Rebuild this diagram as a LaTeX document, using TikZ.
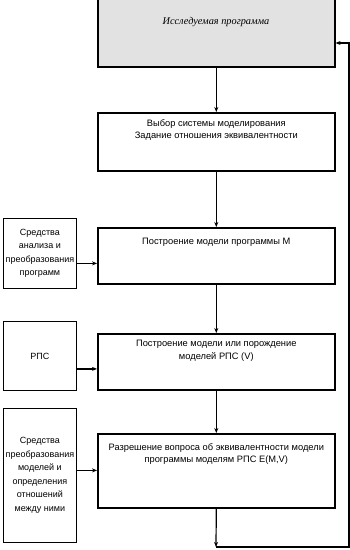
\documentclass[tikz,border=0pt]{standalone}
\usepackage{fontspec}
\setmainfont{Liberation Sans}
\newfontfamily\titrefont{Liberation Serif}
\usetikzlibrary{arrows.meta,positioning}
\definecolor{fondgris}{RGB}{226,226,226}

\begin{document}
\begin{tikzpicture}[x=1pt,y=-1pt,font=\fontsize{9.3}{12.5}\selectfont,
  etape/.style={draw,line width=1.6pt,anchor=north west,minimum width=237pt,inner sep=0pt},
  outil/.style={draw,line width=0.8pt,anchor=north west,minimum width=73pt,inner sep=1pt,
    align=center,font=\fontsize{9}{13.5}\selectfont},
  texte/.style={align=center,inner sep=0pt},
  fleche/.style={line width=1.2pt,-{Stealth[length=5pt,width=4pt]}}]
\useasboundingbox (0,0) rectangle (350,550);
% etapes principales
\node[etape,fill=fondgris,minimum height=76pt] (b1) at (97,-10) {};
\node[texte,font=\titrefont\itshape\fontsize{10.3}{12}\selectfont] (t1) at (216,22) {Исследуемая программа};
\node[etape,minimum height=58pt] (b2) at (97,112) {};
\node[texte,below=7pt of b2.north] (t2) {Выбор системы моделирования\\Задание отношения эквивалентности};
\node[etape,minimum height=56pt] (b3) at (97,227) {};
\node[texte,below=11pt of b3.north] (t3) {Построение модели программы М};
\node[etape,minimum height=56pt] (b4) at (97,333) {};
\node[texte,below=7pt of b4.north] (t4) {Построение модели или порождение\\моделей РПС (V)};
\node[etape,minimum height=74pt] (b5) at (97,433) {};
\node[texte,below=10pt of b5.north] (t5) {Разрешение вопроса об эквивалентности модели\\программы моделям РПС E(M,V)};
% outils a gauche
\node[outil,minimum height=70pt] (l1) at (3,218) {Средства\\анализа и\\преобразования\\программ};
\node[outil,minimum height=69pt] (l2) at (3,321) {РПС};
\node[outil,minimum height=134pt] (l3) at (3,408) {Средства\\преобразования\\моделей и\\определения\\отношений\\между ними};
% liaisons
\draw[fleche] (b1.south) -- (b2.north);
\draw[fleche] (b2.south) -- (b3.north);
\draw[fleche] (b3.south) -- (b4.north);
\draw[fleche] (b4.south) -- (b5.north);
\draw[fleche] ([yshift=-10pt]l1.east) -- ([yshift=-10pt]l1.east -| b3.west);
\draw[fleche] ([yshift=-13pt]l2.east) -- ([yshift=-13pt]l2.east -| b4.west);
\draw[fleche] ([yshift=5pt]l3.east) -- ([yshift=5pt]l3.east -| b5.west);
% retour
\coordinate (bas) at (216,547);
\coordinate (retour) at (349,43);
\draw[fleche] (b5.south) -- (bas);
\draw[fleche] (bas) -| (retour) -- (retour -| b1.east);
\end{tikzpicture}
\end{document}
